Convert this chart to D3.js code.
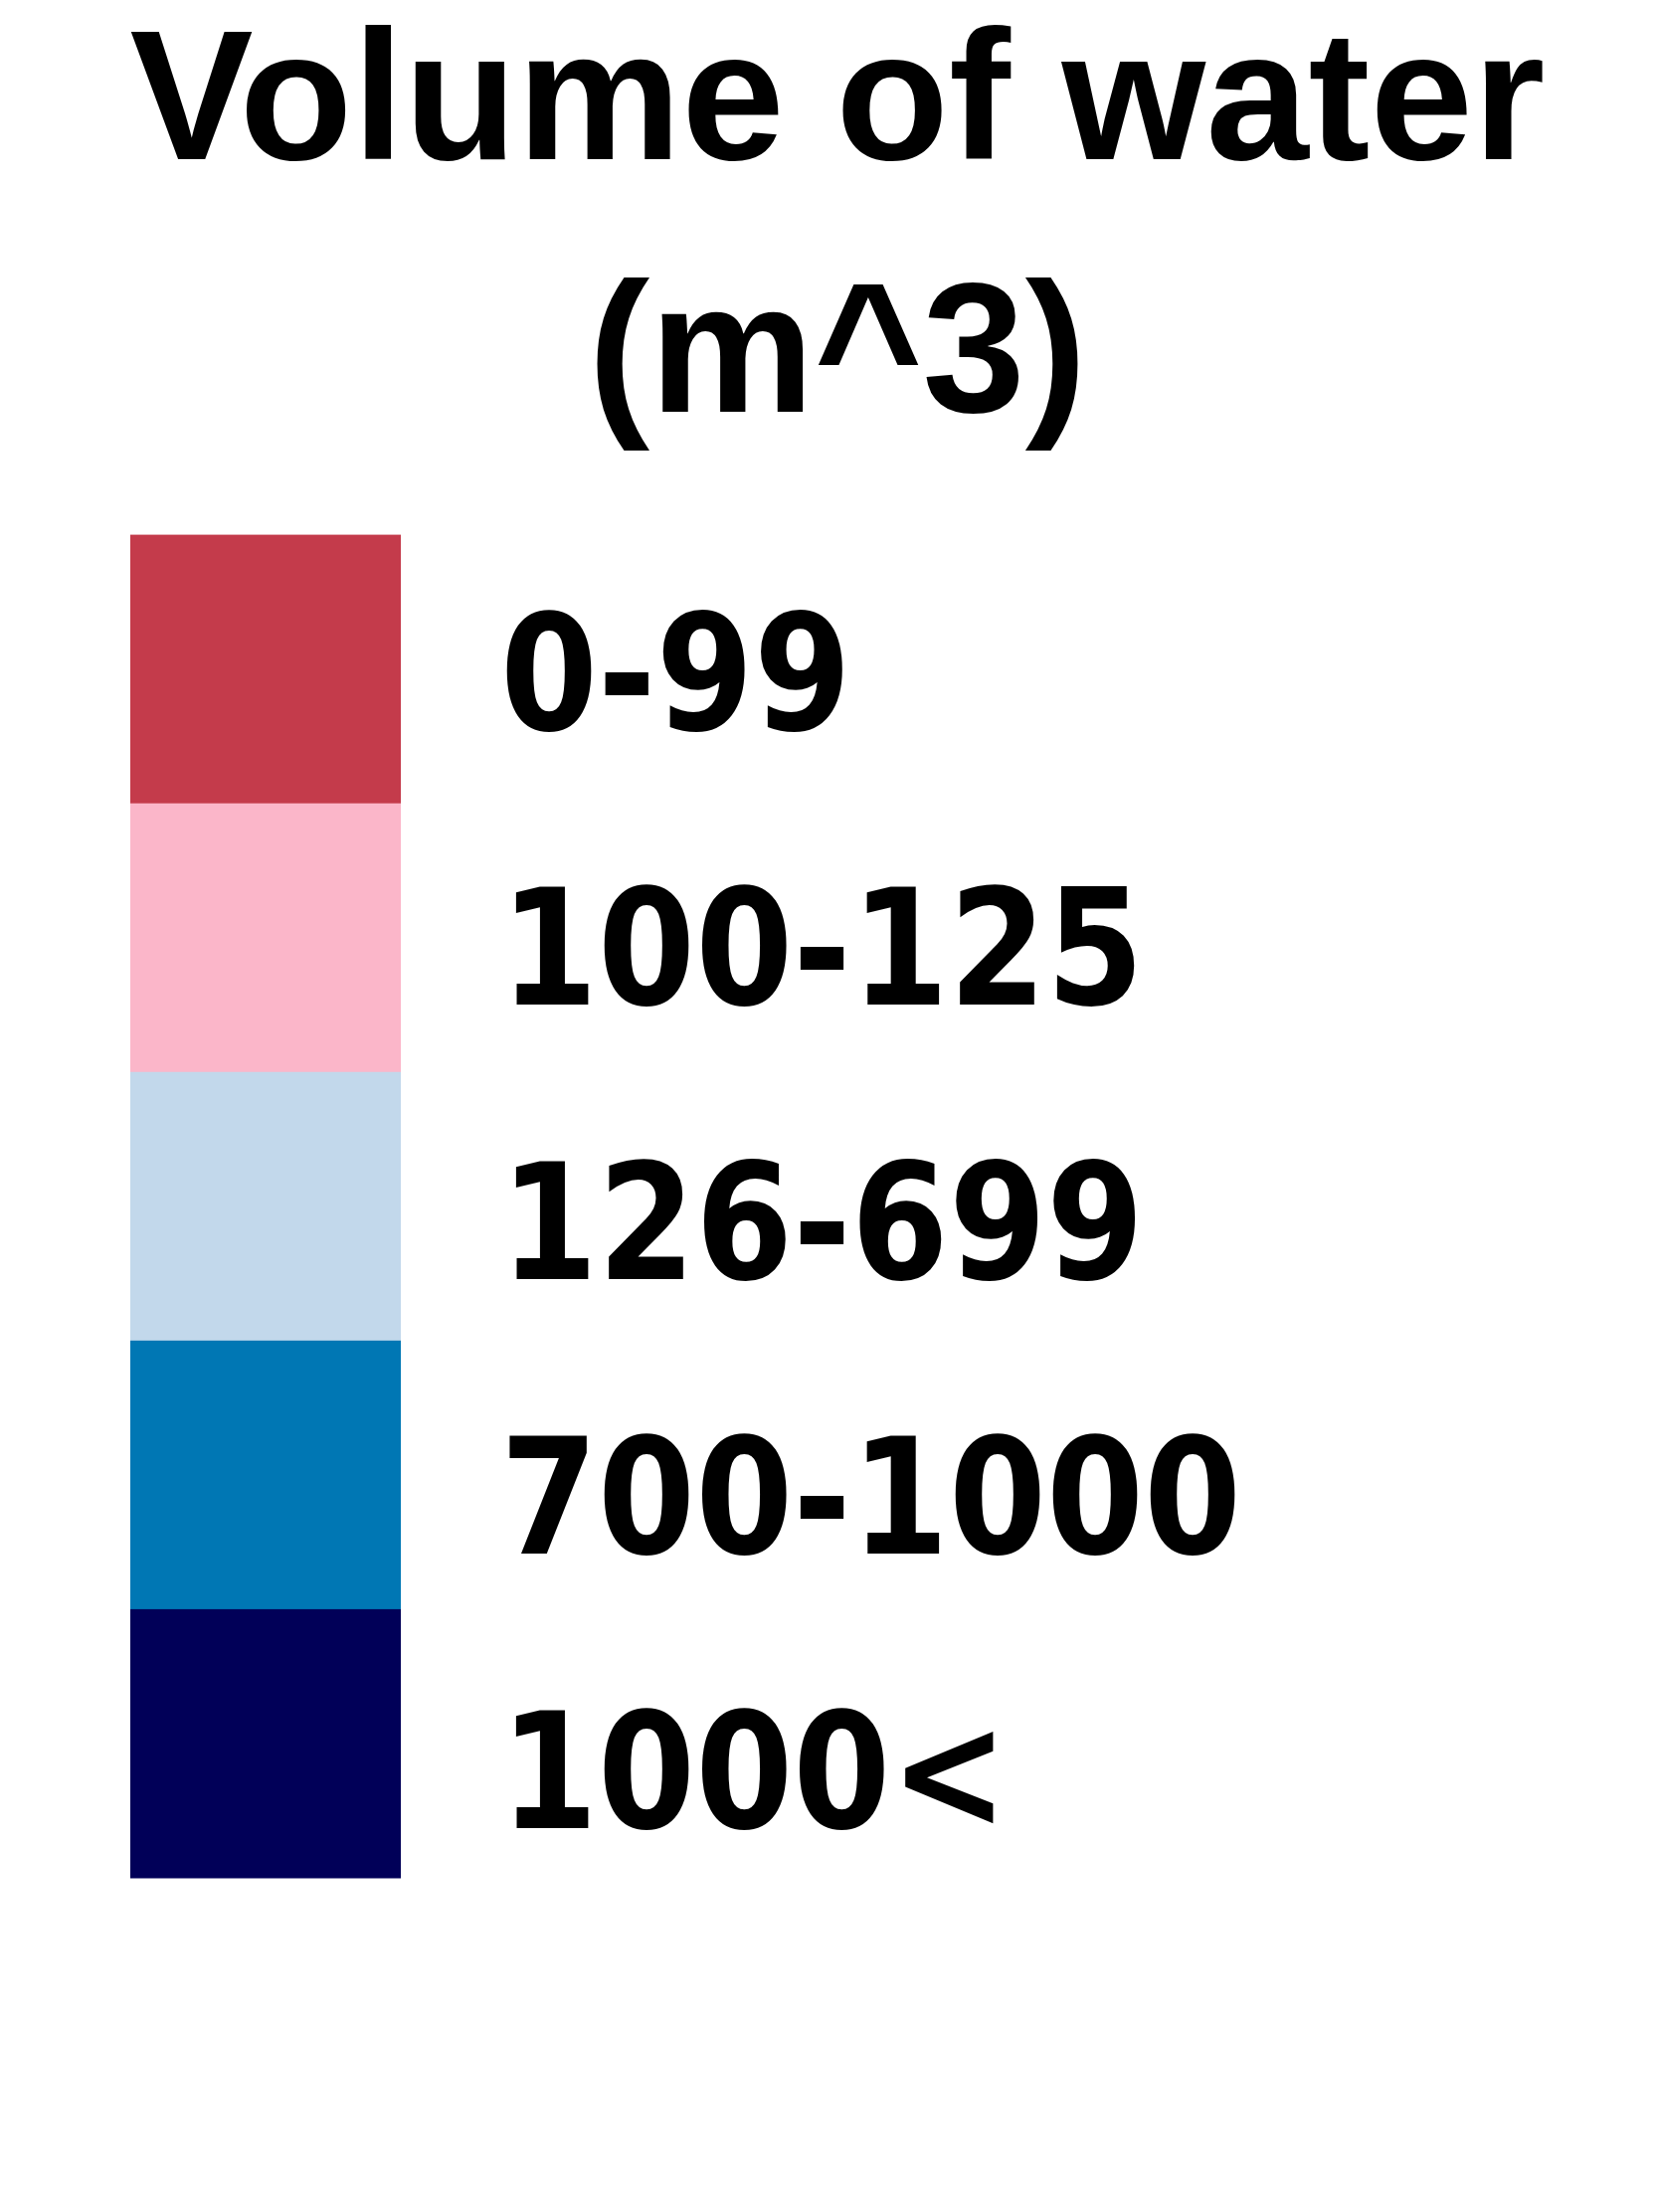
<!DOCTYPE html>
<html>
<head>
<meta charset="utf-8">
<script src="https://cdn.jsdelivr.net/npm/d3@7"></script>
<style>
  html, body { margin: 0; padding: 0; background: #ffffff; }
  svg { display: block; }
</style>
</head>
<body>
<script>
// ---- data ----
const titleLines = ["Volume of water", "(m^3)"];
const categories = ["0-99", "100-125", "126-699", "700-1000", "1000<"];
const colors = ["#c43b4b", "#fbb6c9", "#c2d8eb", "#0077b4", "#010058"];

// ---- layout ----
const W = 1668, H = 2224;
const svg = d3.select("body").append("svg")
  .attr("width", W).attr("height", H)
  .style("background", "#ffffff");

// title
const titleY = d3.scalePoint().domain(titleLines).range([160, 414]);
svg.selectAll("text.title")
  .data(titleLines)
  .join("text")
  .attr("class", "title")
  .attr("x", 842)
  .attr("y", d => titleY(d))
  .attr("text-anchor", "middle")
  .style("font-family", "'Liberation Sans', Arial, Helvetica, sans-serif")
  .style("font-weight", "bold")
  .style("font-size", "186px")
  .style("fill", "#000")
  .text(d => d);

// swatches
const y = d3.scaleBand().domain(categories).range([537.6, 1888]).padding(0);
const color = d3.scaleOrdinal().domain(categories).range(colors);

svg.selectAll("rect.swatch")
  .data(categories)
  .join("rect")
  .attr("class", "swatch")
  .attr("x", 131)
  .attr("y", d => y(d))
  .attr("width", 272)
  .attr("height", y.bandwidth() + 0.5)
  .attr("fill", d => color(d));

// labels
const labelY = d3.scaleLinear().domain([0, categories.length - 1]).range([737, 1841]);
svg.selectAll("text.label")
  .data(categories)
  .join("text")
  .attr("class", "label")
  .attr("transform", (d, i) => `translate(503,${labelY(i) - 3}) scale(0.865,1)`)
  .style("font-family", "'DejaVu Sans', sans-serif")
  .style("font-weight", "bold")
  .style("font-size", "163px")
  .style("fill", "#000")
  .text(d => d);
</script>
</body>
</html>
